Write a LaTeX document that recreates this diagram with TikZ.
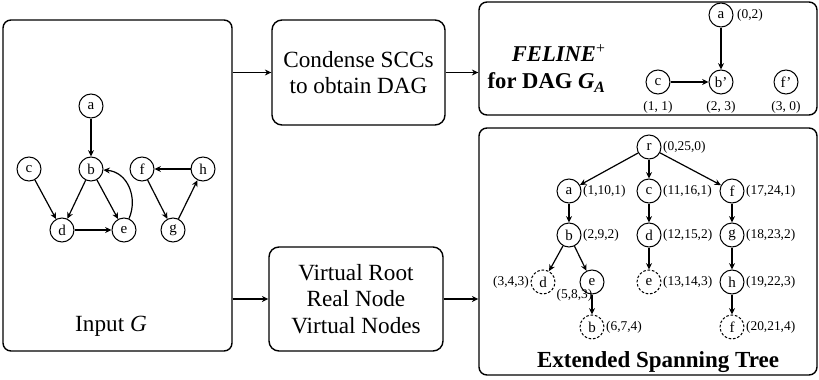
\documentclass[tikz,border=0pt]{standalone}
\usepackage{fontspec}
\setmainfont{Liberation Serif}
\usetikzlibrary{arrows.meta,positioning}

\begin{document}
\begin{tikzpicture}[
    x=0.5pt,
    y=-0.5pt,
    arrow/.style={-{Stealth[length=3.2pt,width=3pt]}, line width=0.6pt},
    panel/.style={draw, line width=0.7pt, rounded corners=4pt, inner sep=0pt},
    stepbox/.style={draw, line width=0.7pt, rounded corners=5pt, align=center,
      inner sep=0pt, font=\fontsize{11.6}{13.2}\selectfont},
    vtx/.style={circle, draw, line width=0.5pt, minimum size=12pt, inner sep=0pt,
      font=\fontsize{7.5}{8}\selectfont},
    vvtx/.style={vtx, dash pattern=on 1.3pt off 0.9pt},
    lbl/.style={font=\fontsize{6.7}{8}\selectfont, inner sep=0.6pt}
  ]
    \useasboundingbox (0,0) rectangle (819,380);

    % panels and steps
    \node[panel, minimum width=114.5pt, minimum height=165.5pt] (input) at (117.5,185.5) {};
    \node[stepbox, minimum width=86.5pt, minimum height=52.5pt] (cond) at (358.5,72.5)
      {Condense SCCs\\to obtain DAG};
    \node[stepbox, minimum width=87pt, minimum height=52pt] (virt) at (356,299)
      {Virtual Root\\Real Node\\Virtual Nodes};
    \node[panel, minimum width=169pt, minimum height=56.5pt] (feline) at (648,58.5) {};
    \node[panel, minimum width=169pt, minimum height=123.5pt] (tree) at (648,251.5) {};

    \draw[arrow] (input.east |- cond.west) -- (cond.west);
    \draw[arrow] (input.east |- virt.west) -- (virt.west);
    \draw[arrow] (cond.east) -- (cond.east -| feline.west);
    \draw[arrow] (virt.east) -- (virt.east -| tree.west);

    % 1. Input graph
    \node[vtx] (ia) at (91,106) {a};
    \node[vtx] (ib) at (91,169) {b};
    \node[vtx] (ic) at (29,169) {c};
    \node[vtx] (id) at (62,230) {d};
    \node[vtx] (ie) at (124,230) {e};
    \node[vtx] (if) at (142,169) {f};
    \node[vtx] (ih) at (203,169) {h};
    \node[vtx] (ig) at (173,230) {g};

    \draw[arrow] (ia) -- (ib);
    \draw[arrow] (ic) -- (id);
    \draw[arrow] (ib) -- (id);
    \draw[arrow] (ib) -- (ie);
    \draw[arrow] (id) -- (ie);
    \draw[arrow] (ie) .. controls (138,198) and (128,172) .. (ib);
    \draw[arrow] (if) -- (ig);
    \draw[arrow] (ig) -- (ih);
    \draw[arrow] (ih) -- (if);

    \node[font=\fontsize{11.6}{13}\selectfont] (inputlbl) at (111,326) {Input \textit{G}};

    % 2. FELINE+ on the condensed DAG
    \node[anchor=east, align=right, font=\fontsize{11.3}{13.5}\selectfont\bfseries] (felinelbl) at (613,68.5)
      {\textit{FELINE}\textsuperscript{\normalfont +}\\for DAG \textit{G}\textsubscript{\textit{A}}};

    \node[vtx] (fa) at (721,15) {a};
    \node[vtx] (fb) at (721,82) {b'};
    \node[vtx] (fc) at (658,82) {c};
    \node[vtx] (ff) at (786,82) {f'};

    \node[lbl, right=1pt of fa] (fa-l) {(0,2)};
    \node[lbl, below=2.5pt of fc] (fc-l) {(1, 1)};
    \node[lbl, below=2.5pt of fb] (fb-l) {(2, 3)};
    \node[lbl, below=2.5pt of ff] (ff-l) {(3, 0)};

    \draw[arrow] (fa) -- (fb);
    \draw[arrow] (fc) -- (fb);

    % 3. Extended spanning tree
    \node[vtx] (tr) at (649,147) {r};
    \node[vtx] (ta) at (569,191) {a};
    \node[vtx] (tc) at (649,191) {c};
    \node[vtx] (tf) at (732,191) {f};
    \node[vtx] (tb) at (569,235) {b};
    \node[vtx] (td) at (649,235) {d};
    \node[vtx] (tg) at (732,235) {g};
    \node[vvtx] (tvd) at (543,282) {d};
    \node[vtx] (te) at (592,282) {e};
    \node[vvtx] (tve) at (649,282) {e};
    \node[vtx] (th) at (732,282) {h};
    \node[vvtx] (tvb) at (592,327) {b};
    \node[vvtx] (tvf) at (732,327) {f};

    \node[lbl, right=0pt of tr] (tr-l) {(0,25,0)};
    \node[lbl, right=0pt of ta] (ta-l) {(1,10,1)};
    \node[lbl, right=0pt of tc] (tc-l) {(11,16,1)};
    \node[lbl, right=0pt of tf] (tf-l) {(17,24,1)};
    \node[lbl, right=0pt of tb] (tb-l) {(2,9,2)};
    \node[lbl, right=0pt of td] (td-l) {(12,15,2)};
    \node[lbl, right=0pt of tg] (tg-l) {(18,23,2)};
    \node[lbl, left=0pt of tvd] (tvd-l) {(3,4,3)};
    \node[lbl, anchor=east] (te-l) at (594,295) {(5,8,3)};
    \node[lbl, right=0pt of tve] (tve-l) {(13,14,3)};
    \node[lbl, right=0pt of th] (th-l) {(19,22,3)};
    \node[lbl, right=0pt of tvb] (tvb-l) {(6,7,4)};
    \node[lbl, right=0pt of tvf] (tvf-l) {(20,21,4)};

    \draw[arrow] (tr) -- (ta);
    \draw[arrow] (tr) -- (tc);
    \draw[arrow] (tr) -- (tf);
    \draw[arrow] (ta) -- (tb);
    \draw[arrow] (tc) -- (td);
    \draw[arrow] (tf) -- (tg);
    \draw[arrow] (tb) -- (tvd);
    \draw[arrow] (tb) -- (te);
    \draw[arrow] (td) -- (tve);
    \draw[arrow] (tg) -- (th);
    \draw[arrow] (te) -- (tvb);
    \draw[arrow] (th) -- (tvf);

    \node[font=\fontsize{11.5}{13}\selectfont\bfseries] (treelbl) at (658,362) {Extended Spanning Tree};

  \end{tikzpicture}
\end{document}
